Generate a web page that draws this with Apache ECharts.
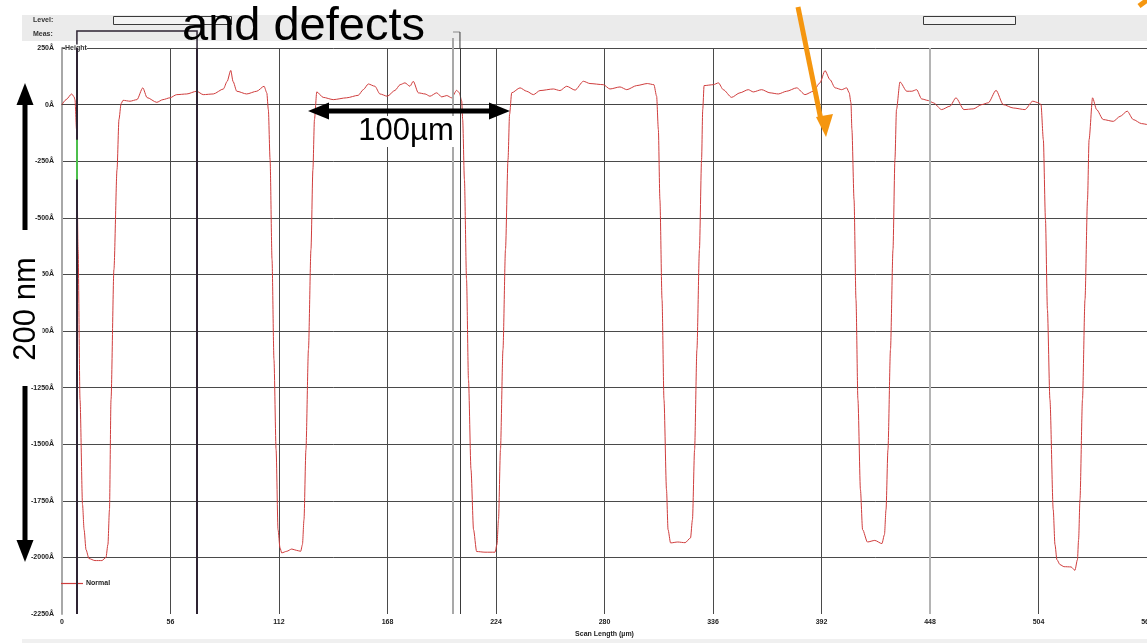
<!DOCTYPE html>
<html>
<head>
<meta charset="utf-8">
<title>Step height profile</title>
<script src="https://cdn.jsdelivr.net/npm/echarts@6/dist/echarts.min.js"></script>
<style>
  html, body { margin: 0; padding: 0; background: #ffffff; }
  #chart { width: 1147px; height: 643px; }
</style>
</head>
<body>
<div id="chart"></div>
<script>
// Scan position along the profile (µm)
const scanUm = [
  0, 2.1, 5.0, 6.2, 6.7, 7.5, 8.3, 9.3, 10.6, 11.4, 12.4, 13.9, 17.0, 20.6, 22.7, 23.7, 24.5, 25.3, 26.8, 28.4,
  29.4, 30.5, 31.5, 35.1, 38.7, 41.7, 43.9, 48.9, 52.1, 55.7, 59.2, 64.4, 69.5, 72.9, 78.1, 83.3, 85.2, 87.1, 88.3, 90.2,
  95.3, 100.5, 104.3, 105.7, 106.5,
  107.4, 108.4, 109.4, 110.5, 111.5, 112.5, 113.4, 116.0, 118.6, 121.1, 123.2, 124.1, 124.9, 125.9, 127.2, 128.5, 129.5, 130.3, 131.5,
  134.8, 140.0, 146.9, 152.9, 155.5, 158.1, 161.5, 164.1, 167.9, 171.9, 174.5, 177.0, 179.6, 181.3, 183.9, 187.4, 189.9, 193.4, 196.0, 198.6,
  201.1, 203.7, 205.1, 206.3, 206.8,
  207.7, 208.8, 209.8, 211.1, 212.4, 214.0, 218.3, 223.5, 224.5, 225.3, 226.3, 227.6, 228.9, 230.2, 231.0, 232.1,
  236.4, 239.8, 243.3, 246.7, 253.6, 257.0, 260.5, 264.8, 269.1, 272.5, 279.4, 282.8, 288.0, 291.5, 296.6, 302.1, 305.5, 306.9, 307.8,
  308.6, 309.7, 310.7, 312.0, 312.8, 314.1, 317.8, 321.6, 324.4, 325.4, 326.5, 327.7, 329.0, 330.1, 330.7, 331.4,
  336.2, 338.8, 341.3, 345.6, 349.9, 354.2, 356.8, 361.1, 365.4, 369.7, 374.0, 379.2, 383.5, 387.8, 391.2, 393.8, 396.4, 399.0, 402.4, 405.0,
  406.3, 407.2, 407.7,
  408.8, 409.8, 410.8, 412.1, 413.2, 415.7, 419.5, 423.2, 424.5, 425.3, 426.3, 427.6, 428.9, 429.9, 430.7, 432.5,
  436.0, 438.6, 441.1, 443.7, 447.1, 449.7, 454.0, 458.3, 461.4, 465.5, 470.3, 474.7, 478.1, 482.1, 485.8, 491.0, 497.0, 501.0, 504.1, 505.3,
  506.5,
  507.6, 508.6, 509.9, 511.6, 512.5, 513.5, 515.1, 517.2, 520.8, 522.8, 524.1, 524.7, 525.4, 526.7, 528.0, 529.3, 530.1, 531.9,
  534.0, 537.4, 542.6, 546.1, 549.8, 552.9, 557.2, 560
];

// Measured height at each scan position (Å)
const heightA = [
  0, 22, 47, 35, 22, -110, -640, -1303, -1767, -1877, -1966, -2005, -2014, -2014, -2000, -1943, -1789, -1303, -729, -287,
  -66, 4, 19, 15, 22, 74, 31, 10, 22, 30, 44, 47, 59, 44, 47, 69, 102, 151, 102, 59,
  47, 59, 81, 52, -22,
  -243, -684, -1126, -1524, -1877, -1957, -1980, -1973, -1963, -1969, -1973, -1943, -1833, -1524, -1082, -640, -287, -66, 56,
  32, 22, 30, 41, 66, 91, 81, 47, 37, 63, 88, 96, 81, 103, 52, 47, 37, 52, 34, 40,
  30, 63, 52, 15, -66,
  -331, -773, -1215, -1612, -1877, -1974, -1977, -1977, -1943, -1833, -1524, -1082, -640, -243, -44, 52,
  74, 59, 44, 62, 69, 62, 81, 64, 103, 93, 88, 69, 78, 66, 84, 93, 88, 37, -110,
  -420, -861, -1303, -1701, -1877, -1936, -1932, -1935, -1914, -1833, -1524, -1082, -640, -243, -22, 84,
  88, 96, 66, 32, 52, 66, 56, 66, 52, 47, 59, 74, 44, 59, 96, 150, 110, 74, 66, 74,
  52, 8, -110,
  -420, -861, -1303, -1701, -1877, -1932, -1925, -1939, -1899, -1789, -1524, -1082, -640, -243, -22, 100,
  59, 59, 66, 25, 18, 8, -22, -7, 30, -22, -19, 0, 8, 63, 0, -15, -22, 15, 8, 0,
  -155,
  -508, -905, -1303, -1789, -1943, -2010, -2032, -2041, -2042, -2057, -2010, -1921, -1745, -1303, -861, -420, -155, 30,
  -22, -66, -74, -52, -29, -66, -84, -88
];

// Axis ranges and tick steps
const xTicks = { min: 0, max: 560, step: 56 };
const yTicks = { min: -2250, max: 250, step: 250 };

// Measurement cursor positions (µm)
const measCursors = [7.7, 69.7];
const levelCursors = [201.8, 205.4];

const seriesName = 'Normal';
const profile = scanUm.map((x, i) => [x, heightA[i]]);

const chart = echarts.init(document.getElementById('chart'), null, { renderer: 'canvas' });
const labelFont = { fontFamily: 'Liberation Sans, Arial, sans-serif', fontSize: 7, fontWeight: 'bold', color: '#222' };

chart.setOption({
  backgroundColor: '#ffffff',
  animation: false,
  grid: { left: 62, right: 0, top: 48, bottom: 29, containLabel: false, outerBoundsMode: 'none' },
  legend: {
    data: [{ name: seriesName, icon: 'rect' }],
    left: 56, top: 575,
    itemWidth: 22, itemHeight: 1.2,
    textStyle: Object.assign({}, labelFont, { padding: [0, 0, 0, -2] })
  },
  xAxis: {
    type: 'value',
    min: xTicks.min, max: xTicks.max, interval: xTicks.step,
    name: 'Scan Length (µm)',
    nameLocation: 'middle', nameGap: 14,
    nameTextStyle: labelFont,
    axisLine: { show: true, lineStyle: { color: '#444', width: 1 } },
    axisTick: { show: false },
    axisLabel: Object.assign({ margin: 5 }, labelFont),
    splitLine: { show: true, showMinLine: false, lineStyle: { color: '#4a4a4a', width: 1 } }
  },
  yAxis: {
    type: 'value',
    min: yTicks.min, max: yTicks.max, interval: yTicks.step,
    axisLine: { show: true, lineStyle: { color: '#a8a8a8', width: 2 } },
    axisTick: { show: false },
    axisLabel: Object.assign({ margin: 8, formatter: v => v + 'Å' }, labelFont),
    splitLine: { show: true, showMinLine: false, lineStyle: { color: '#4a4a4a', width: 1 } }
  },
  series: [{
    name: seriesName,
    type: 'line',
    data: profile,
    showSymbol: false,
    smooth: 0.25,
    smoothMonotone: 'x',
    lineStyle: { color: '#cf3d3d', width: 1 },
    itemStyle: { color: '#cf3d3d' },
    z: 3,
    markLine: {
      silent: true,
      symbol: ['none', 'none'],
      label: { show: false },
      animation: false,
      data: [
        { xAxis: 448, lineStyle: { color: '#b4b4b4', width: 2, type: 'solid' } },
        { xAxis: levelCursors[0], lineStyle: { color: '#a9a9a9', width: 2, type: 'solid' } },
        { xAxis: levelCursors[1], lineStyle: { color: '#3a3a3a', width: 1, type: 'solid' } },
        { xAxis: measCursors[0], lineStyle: { color: '#2e2433', width: 2, type: 'solid' } },
        { xAxis: measCursors[1], lineStyle: { color: '#2e2433', width: 2, type: 'solid' } },
        [
          { coord: [measCursors[0], -155], lineStyle: { color: '#4cbf4c', width: 2, type: 'solid' } },
          { coord: [measCursors[0], -331] }
        ]
      ]
    }
  }]
});

// Header bar, cursor brackets and annotations
function drawOverlay() {
  const xp = v => chart.convertToPixel({ xAxisIndex: 0 }, v);
  const yp = v => chart.convertToPixel({ yAxisIndex: 0 }, v);
  const plotTop = yp(yTicks.max);
  const W = chart.getWidth();
  const ink = '#000000';
  const orange = '#f5960f';
  const bigFont = 'Liberation Sans, Arial, sans-serif';

  const m0 = xp(measCursors[0]), m1 = xp(measCursors[1]);
  const l0 = xp(levelCursors[0]), l1 = xp(levelCursors[1]);

  const elements = [
    // header band
    { type: 'rect', shape: { x: 22, y: 15, width: W - 22, height: 26 }, style: { fill: '#ebebeb' }, z: 1 },
    { type: 'rect', shape: { x: 22, y: 639, width: W - 22, height: 4 }, style: { fill: '#f0f0f0' }, z: 1 },
    { type: 'text', x: 33, y: 20, style: { text: 'Level:', font: 'bold 7px Liberation Sans, Arial', fill: '#333', verticalAlign: 'middle' }, z: 2 },
    { type: 'text', x: 33, y: 34, style: { text: 'Meas:', font: 'bold 7px Liberation Sans, Arial', fill: '#333', verticalAlign: 'middle' }, z: 2 },
    { type: 'rect', shape: { x: 113.5, y: 16.5, width: 118, height: 8 }, style: { fill: '#f3f3f3', stroke: '#3a3a3a', lineWidth: 1 }, z: 2 },
    { type: 'rect', shape: { x: 923.5, y: 16.5, width: 92, height: 8 }, style: { fill: '#f3f3f3', stroke: '#3a3a3a', lineWidth: 1 }, z: 2 },
    // measurement bracket
    { type: 'polyline', shape: { points: [[m0, plotTop], [m0, 31], [m1, 31], [m1, plotTop]] }, style: { stroke: '#2e2433', lineWidth: 1.5, fill: null }, z: 2 },
    // level bracket
    { type: 'line', shape: { x1: l0, y1: 32, x2: l1, y2: 32 }, style: { stroke: '#888', lineWidth: 1 }, z: 2 },
    { type: 'line', shape: { x1: l1, y1: 32, x2: l1, y2: plotTop }, style: { stroke: '#3a3a3a', lineWidth: 1 }, z: 2 },
    { type: 'line', shape: { x1: l0, y1: 38, x2: l0, y2: plotTop }, style: { stroke: '#a9a9a9', lineWidth: 2 }, z: 2 },
    // series label at top of plot
    { type: 'line', shape: { x1: 62, y1: plotTop, x2: 65, y2: plotTop }, style: { stroke: '#333', lineWidth: 1 }, z: 4 },
    { type: 'text', x: 65, y: plotTop, style: { text: 'Height', font: 'bold 7px Liberation Sans, Arial', fill: '#333', verticalAlign: 'middle', backgroundColor: '#fff' }, z: 4 },

    // heading text
    { type: 'text', x: 182, y: 27.5, style: { text: 'and defects', font: '47px ' + bigFont, fill: ink, verticalAlign: 'middle' }, z: 10 },

    // horizontal scale arrow
    { type: 'rect', shape: { x: 326, y: 108.5, width: 166, height: 5 }, style: { fill: ink }, z: 10 },
    { type: 'polygon', shape: { points: [[308, 111], [329, 102.5], [329, 119.5]] }, style: { fill: ink }, z: 10 },
    { type: 'polygon', shape: { points: [[510, 111], [489, 102.5], [489, 119.5]] }, style: { fill: ink }, z: 10 },
    { type: 'text', x: 406, y: 131.5, style: { text: '100µm', font: '31px ' + bigFont, fill: ink, align: 'center', verticalAlign: 'middle', backgroundColor: '#fff', padding: [0, 1] }, z: 10 },

    // vertical scale arrow
    { type: 'rect', shape: { x: 22.5, y: 100, width: 5, height: 130 }, style: { fill: ink }, z: 10 },
    { type: 'rect', shape: { x: 22.5, y: 386, width: 5, height: 158 }, style: { fill: ink }, z: 10 },
    { type: 'polygon', shape: { points: [[25, 83], [16.5, 105], [33.5, 105]] }, style: { fill: ink }, z: 10 },
    { type: 'polygon', shape: { points: [[25, 562], [16.5, 540], [33.5, 540]] }, style: { fill: ink }, z: 10 },
    { type: 'text', x: 26, y: 309, rotation: Math.PI / 2, style: { text: '200 nm', font: '31px ' + bigFont, fill: ink, align: 'center', verticalAlign: 'middle', backgroundColor: '#fff', padding: [1, 2] }, z: 10 },

    // pointer arrows
    { type: 'line', shape: { x1: 798, y1: 7, x2: 821, y2: 120 }, style: { stroke: orange, lineWidth: 5 }, z: 10 },
    { type: 'polygon', shape: { points: [[826, 137], [816, 117], [833, 114]] }, style: { fill: orange }, z: 10 },
    { type: 'line', shape: { x1: 1139, y1: 6, x2: 1150, y2: -2 }, style: { stroke: orange, lineWidth: 5 }, z: 10 }
  ];

  chart.setOption({ graphic: { elements: elements } });
}

drawOverlay();
</script>
</body>
</html>
